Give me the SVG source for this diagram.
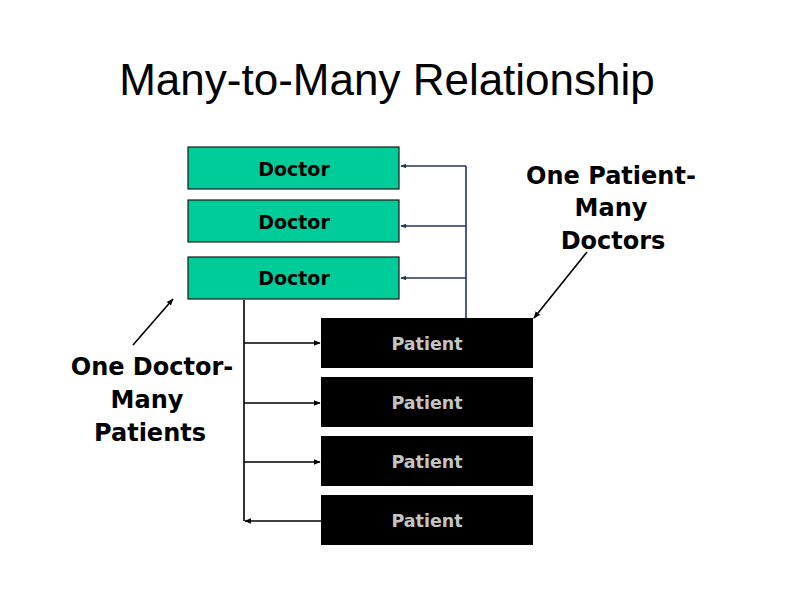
<svg xmlns="http://www.w3.org/2000/svg" width="799" height="598" viewBox="0 0 799 598">
<defs>
<style>
.title{font-family:"Liberation Sans",Arial,sans-serif;font-size:44px;fill:#000}
.doc rect{fill:#00cc99;stroke:#1a1a1a;stroke-width:1.2}
.doc text{font-family:"DejaVu Sans",Verdana,sans-serif;font-weight:bold;font-size:19px;fill:#000;text-anchor:middle}
.pat rect{fill:#000;stroke:none}
.pat text{font-family:"DejaVu Sans",Verdana,sans-serif;font-weight:bold;font-size:17.5px;fill:#c4c4c4;text-anchor:middle}
.note{font-family:"DejaVu Sans",Verdana,sans-serif;font-weight:bold;font-size:24px;fill:#000;text-anchor:middle}
.blue{stroke:#22375a;stroke-width:1.6;fill:none}
.blk{stroke:#000;stroke-width:1.6;fill:none}
</style>
<marker id="ab" viewBox="0 0 10 10" refX="9" refY="5" markerWidth="6" markerHeight="6" orient="auto" markerUnits="userSpaceOnUse"><path d="M0,1 L10,5 L0,9 z" fill="#22375a"/></marker>
<marker id="ak" viewBox="0 0 10 10" refX="9" refY="5" markerWidth="7" markerHeight="7" orient="auto" markerUnits="userSpaceOnUse"><path d="M0,1 L10,5 L0,9 z" fill="#000"/></marker>
</defs>
<rect width="799" height="598" fill="#fff"/>
<text class="title" x="387" y="95" text-anchor="middle">Many-to-Many Relationship</text>
<g id="connectors">
<path class="blue" d="M466,318 V166"/>
<path class="blue" d="M466,166 H401" marker-end="url(#ab)"/>
<path class="blue" d="M466,226 H401" marker-end="url(#ab)"/>
<path class="blue" d="M466,278 H401" marker-end="url(#ab)"/>
<path class="blk" d="M244,300 V521"/>
<path class="blk" d="M244,343 H320" marker-end="url(#ak)"/>
<path class="blk" d="M244,403 H320" marker-end="url(#ak)"/>
<path class="blk" d="M244,462 H320" marker-end="url(#ak)"/>
<path class="blk" d="M321,521 H245" marker-end="url(#ak)"/>
<path class="blk" d="M133,345 L173,299" marker-end="url(#ak)"/>
<path class="blk" d="M587,252 L534,318" marker-end="url(#ak)"/>
</g>
<g id="doctor1" class="doc"><rect x="188" y="147" width="211" height="42"/><text x="294" y="176">Doctor</text></g>
<g id="doctor2" class="doc"><rect x="188" y="200" width="211" height="42"/><text x="294" y="229">Doctor</text></g>
<g id="doctor3" class="doc"><rect x="188" y="257" width="211" height="42"/><text x="294" y="285">Doctor</text></g>
<g id="patient1" class="pat"><rect x="321" y="318" width="212" height="50"/><text x="427" y="350">Patient</text></g>
<g id="patient2" class="pat"><rect x="321" y="377" width="212" height="50"/><text x="427" y="409">Patient</text></g>
<g id="patient3" class="pat"><rect x="321" y="436" width="212" height="50"/><text x="427" y="468">Patient</text></g>
<g id="patient4" class="pat"><rect x="321" y="495" width="212" height="50"/><text x="427" y="527">Patient</text></g>
<g id="note-doctor">
<text class="note" x="152" y="375">One Doctor-</text>
<text class="note" x="147" y="408">Many</text>
<text class="note" x="150" y="441">Patients</text>
</g>
<g id="note-patient">
<text class="note" x="611" y="184">One Patient-</text>
<text class="note" x="611" y="216">Many</text>
<text class="note" x="613" y="249">Doctors</text>
</g>
</svg>
